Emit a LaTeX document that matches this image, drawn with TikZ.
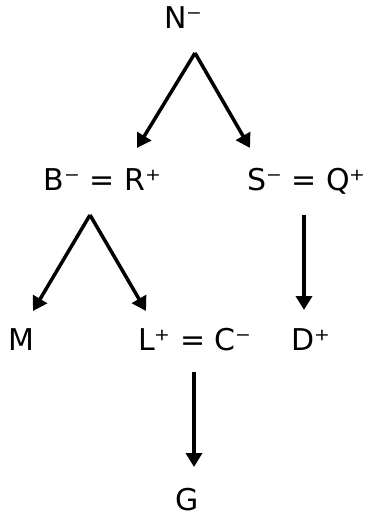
\documentclass[tikz,border=0pt]{standalone}
\usepackage{fontspec}
\setmainfont{DejaVu Sans}
\usetikzlibrary{arrows.meta}
\begin{document}
\begin{tikzpicture}[x=1pt,y=1pt,
  lbl/.style={inner sep=0pt, anchor=base, font=\fontsize{30}{36}\selectfont},
  arr/.style={line width=3.5pt, -{Triangle[length=14pt,width=16pt]}}]
\useasboundingbox (0,0) rectangle (372,-518);
\node[lbl] (N) at (183.5,-29) {N⁻};
\node[lbl] (BR) at (102.5,-191) {B⁻ = R⁺};
\node[lbl] (SQ) at (306.5,-191) {S⁻ = Q⁺};
\node[lbl] (M) at (21.5,-350) {M};
\node[lbl] (LC) at (195,-350) {L⁺ = C⁻};
\node[lbl] (D) at (310.5,-350) {D⁺};
\node[lbl] (G) at (187.5,-510) {G};
\coordinate (na) at (195,-53);
\coordinate (nl) at (137,-148);
\coordinate (nr) at (250,-148);
\coordinate (ba) at (90,-215);
\coordinate (bl) at (33,-311);
\coordinate (br) at (146,-311);
\coordinate (sa) at (304,-215);
\coordinate (sd) at (304,-310);
\coordinate (la) at (194,-372);
\coordinate (lg) at (194,-467);
\draw[arr] (na) -- (nl);
\draw[arr] (na) -- (nr);
\draw[arr] (ba) -- (bl);
\draw[arr] (ba) -- (br);
\draw[arr] (sa) -- (sd);
\draw[arr] (la) -- (lg);
\end{tikzpicture}
\end{document}
